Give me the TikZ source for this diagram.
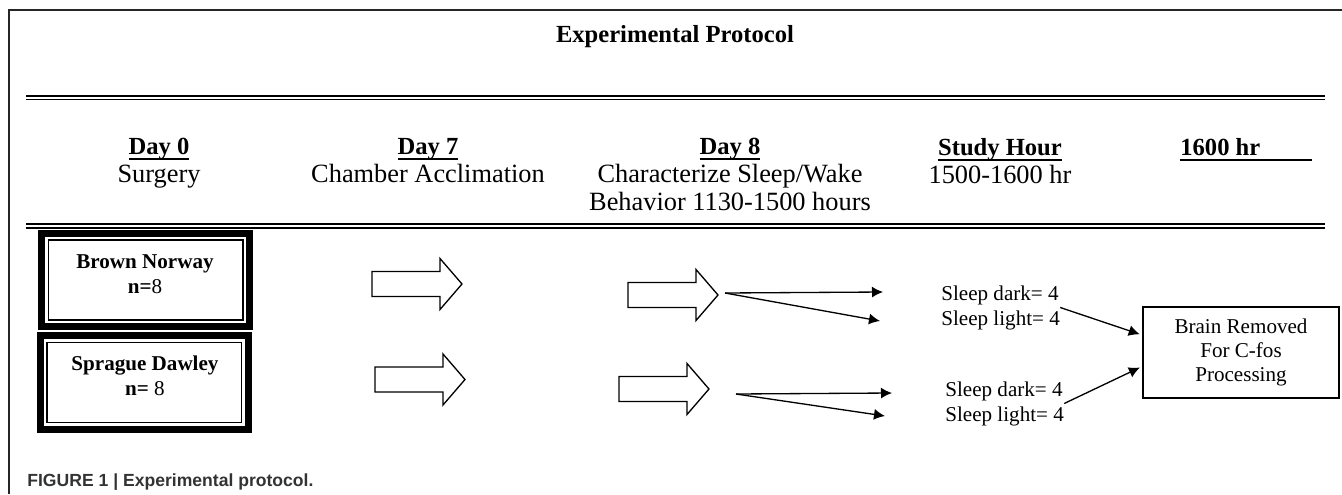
\documentclass[tikz,border=0pt]{standalone}
\usepackage{fontspec}
\setmainfont{Liberation Serif}
\newfontfamily\capfont{Liberation Sans}
\usepackage{tikz}
\usetikzlibrary{arrows.meta}
\definecolor{capgray}{HTML}{333333}
\definecolor{framegray}{HTML}{262626}

\newsavebox\hdbox
\newcommand{\dayhead}[1]{\sbox\hdbox{\fontsize{14}{15.6}\selectfont\textbf{#1}}\rlap{\rule[-3.2pt]{\wd\hdbox}{1.1pt}}\usebox\hdbox}

\tikzset{
	hdr/.style={font=\fontsize{15}{15.8}\selectfont, align=center, anchor=north, inner sep=0pt},
	ratbox/.style={draw, line width=0.85pt, minimum width=3.89cm, minimum height=1.6cm, inner sep=0pt},
	ratband/.style={line width=4pt},
	boxlabel/.style={font=\fontsize{12}{14.2}\selectfont\bfseries, align=center, inner sep=0pt},
	sleeptxt/.style={font=\fontsize{12}{14.2}\selectfont, align=left, anchor=west, inner sep=0pt},
	thinarrow/.style={-{Latex[length=2.2mm,width=2.2mm]}, line width=0.75pt},
	blockarrow/.pic={
		\draw[line width=0.75pt, fill=white] (0,-12.5) -- (68,-12.5) -- (68,-25.5) -- (90,0)
			-- (68,25.5) -- (68,12.5) -- (0,12.5) -- cycle;
	}
}

\begin{document}
\begin{tikzpicture}[x=0.2mm, y=-0.2mm]
	\useasboundingbox (0,0) rectangle (1342,494);
		%%  frame and title  %%%%%%%%
		\draw[framegray, line width=0.8pt] (9,494) -- (9,10) -- (1342,10);
		\node[font=\fontsize{14}{16}\selectfont\bfseries] (title) at (675,37) {Experimental Protocol};
		\draw[line width=1.7pt] (26,96) -- (1325,96);
		\draw[line width=0.65pt] (26,99.5) -- (1325,99.5);
		%%  column heads  %%%%%%%%
		\node[hdr] (day0) at (159,138) {\dayhead{Day 0}\\Surgery};
		\node[hdr] (day7) at (428,138) {\dayhead{Day 7}\\Chamber Acclimation};
		\node[hdr] (day8) at (730,138) {\dayhead{Day 8}\\Characterize Sleep/Wake\\Behavior 1130-1500 hours};
		\node[hdr] (study) at (1000,138) {\dayhead{Study Hour}\\1500-1600 hr};
		\node[hdr, anchor=north west] (endhr) at (1180,138) {\dayhead{\makebox[2.64cm][l]{1600 hr}}};
		\draw[line width=0.9pt] (26,224.2) -- (1325,224.2);
		\draw[line width=1.45pt] (26,228) -- (1325,228);
		%%  rat strains  %%%%%%%%
		\node[ratbox] (bn) at (145.9,280.2) {};
		\draw[ratband] ([shift={(-6,-6)}]bn.north west) rectangle ([shift={(6,6)}]bn.south east);
		\node[boxlabel] (bnlabel) at (145,274.5) {Brown Norway\\n=\mdseries8};
		\node[ratbox] (sd) at (144.3,382.3) {};
		\draw[ratband] ([shift={(-6,-6)}]sd.north west) rectangle ([shift={(6,6)}]sd.south east);
		\node[boxlabel] (sdlabel) at (145,376) {Sprague Dawley\\n= \mdseries8};
		%%  block arrows  %%%%%%%%
		\pic (acc1) at (372,284) {blockarrow};
		\pic (acc2) at (375,379.5) {blockarrow};
		\pic (chr1) at (628,295) {blockarrow};
		\pic (chr2) at (619,389) {blockarrow};
		%%  split into dark / light  %%%%%%%%
		\coordinate (split1) at (725,293);
		\coordinate (dark1) at (883,292);
		\coordinate (light1) at (880,321);
		\coordinate (split2) at (736,394);
		\coordinate (dark2) at (892,393);
		\coordinate (light2) at (885,416);
		\draw[thinarrow] (split1) -- (dark1);
		\draw[thinarrow] (split1) -- (light1);
		\draw[thinarrow] (split2) -- (dark2);
		\draw[thinarrow] (split2) -- (light2);
		\node[sleeptxt] (sl1) at (941,307.5) {Sleep dark= 4\\Sleep light= 4};
		\node[sleeptxt] (sl2) at (945,403.5) {Sleep dark= 4\\Sleep light= 4};
		%%  end point  %%%%%%%%
		\node[draw, line width=0.85pt, minimum width=3.92cm, minimum height=1.82cm, align=center,
			font=\fontsize{12}{13.6}\selectfont] (brain) at (1241,352.5) {Brain Removed\\For C-fos\\Processing};
		\draw[thinarrow, shorten >=1.5pt] (sl1.east) -- (brain.170);
		\draw[thinarrow, shorten >=1.5pt] (sl2.east) -- (brain.188);
		%%  caption  %%%%%%%%
		\node[font=\capfont\fontsize{10}{12}\selectfont\bfseries, text=capgray, anchor=west, inner sep=0pt]
			(caption) at (27,482) {FIGURE 1 | Experimental protocol.};
\end{tikzpicture}
\end{document}
